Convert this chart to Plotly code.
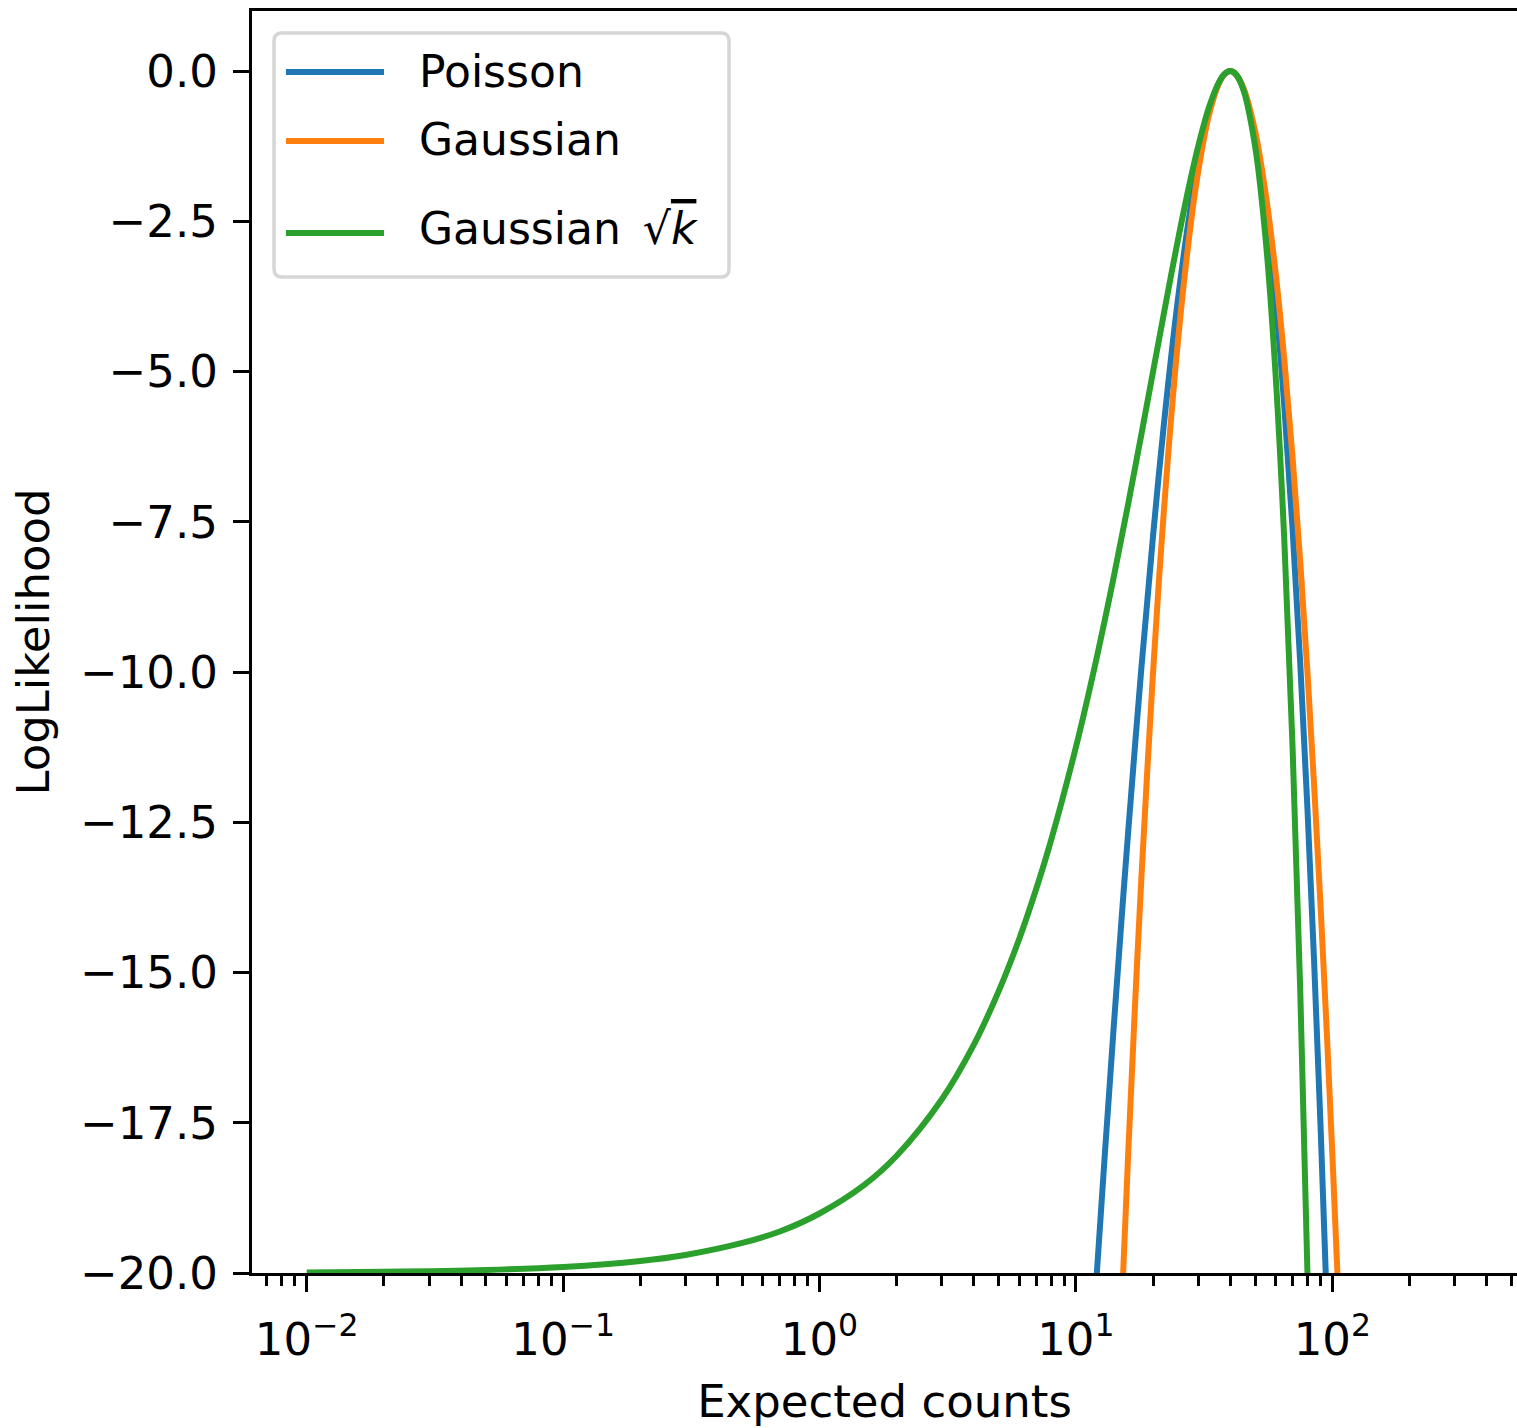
import plotly.graph_objects as go

poisson_mu = [11, 12, 13, 14, 15, 16, 18, 20, 22, 25, 28, 30, 33, 36, 38, 40,
              42, 45, 50, 55, 60, 65, 70, 75, 80, 85, 90, 95, 100]
poisson_ll = [-22.64, -20.16, -17.96, -15.99, -14.23, -12.65, -9.94, -7.73, -5.91,
              -3.80, -2.27, -1.51, -0.69, -0.21, -0.05, 0.0, -0.05, -0.29, -1.07,
              -2.26, -3.78, -5.58, -7.62, -9.86, -12.27, -14.85, -17.56, -20.40, -23.35]

gauss_mu = [14, 15, 16, 17, 18, 20, 22, 25, 28, 30, 33, 36, 38, 40, 42, 45, 50,
            55, 60, 65, 70, 75, 80, 85, 90, 95, 100, 105, 110]
gauss_ll = [-24.14, -20.83, -18.0, -15.56, -13.44, -10.0, -7.36, -4.5, -2.57, -1.67,
            -0.74, -0.22, -0.05, 0.0, -0.05, -0.28, -1.0, -2.05, -3.33, -4.81, -6.43,
            -8.17, -10.0, -11.91, -13.89, -15.92, -18.0, -20.12, -22.27]

gsqrt_mu = [0.01, 0.02, 0.05, 0.1, 0.2, 0.3, 0.5, 0.7, 1, 1.5, 2, 3, 4, 5, 6, 7, 8,
            10, 12, 14, 16, 18, 20, 22, 25, 28, 30, 33, 36, 38, 40, 42, 45, 50, 55,
            60, 65, 70, 75, 80, 85]
gsqrt_ll = [-19.99, -19.98, -19.95, -19.90, -19.80, -19.70, -19.50, -19.31, -19.01,
            -18.53, -18.05, -17.11, -16.20, -15.31, -14.45, -13.61, -12.80, -11.25,
            -9.80, -8.45, -7.20, -6.05, -5.00, -4.05, -2.81, -1.80, -1.25, -0.61,
            -0.20, -0.05, 0.0, -0.05, -0.31, -1.25, -2.81, -5.00, -7.81, -11.25,
            -15.31, -20.0, -25.31]

names = ['Poisson', 'Gaussian', 'Gaussian √k']
legend_text = ['Poisson', 'Gaussian',
               'Gaussian\u2002√<span style="text-decoration:overline"><i>k</i></span>']
colors = ['#1f77b4', '#ff7f0e', '#2ca02c']

x_tickvals = [0.01, 0.1, 1, 10, 100]
x_ticktext = ['10<sup>−2</sup>', '10<sup>−1</sup>', '10<sup>0</sup>',
              '10<sup>1</sup>', '10<sup>2</sup>']
x_minor = [m * 10.0 ** e for e in range(-3, 3) for m in range(2, 10)]
y_tickvals = [0, -2.5, -5, -7.5, -10, -12.5, -15, -17.5, -20]
y_ticktext = ['0.0', '−2.5', '−5.0', '−7.5', '−10.0', '−12.5', '−15.0', '−17.5', '−20.0']

W, H = 1517, 1428
ML, MT, MB = 252, 11, 155
PW, PH = W - ML, H - MT - MB
FONT = 'DejaVu Sans'
FS = 45


def px(x):
    return (x - ML) / PW


def py(y):
    return (H - MB - y) / PH


fig = go.Figure()
for mu, ll, name, c in zip([poisson_mu, gauss_mu, gsqrt_mu],
                           [poisson_ll, gauss_ll, gsqrt_ll], names, colors):
    fig.add_trace(go.Scatter(x=mu, y=ll, name=name, mode='lines',
                             line=dict(color=c, width=6, shape='spline'),
                             showlegend=False))

# legend drawn by hand (matplotlib style: long line samples, rounded frame)
x0, x1, y0, y1, r = px(274), px(729), py(33), py(277), 8
rx, ry = r / PW, r / PH
frame = (f'M {x0+rx},{y0} L {x1-rx},{y0} Q {x1},{y0} {x1},{y0-ry} '
         f'L {x1},{y1+ry} Q {x1},{y1} {x1-rx},{y1} L {x0+rx},{y1} '
         f'Q {x0},{y1} {x0},{y1+ry} L {x0},{y0-ry} Q {x0},{y0} {x0+rx},{y0} Z')
fig.add_shape(type='path', path=frame, xref='paper', yref='paper',
              line=dict(color='#d6d6d6', width=3.5), fillcolor='rgba(255,255,255,0.8)')
for yy, ty, txt, c in zip([72, 141, 233], [72, 139, 229], legend_text, colors):
    fig.add_shape(type='line', xref='paper', yref='paper',
                  x0=px(286), x1=px(384), y0=py(yy), y1=py(yy),
                  line=dict(color=c, width=6))
    fig.add_annotation(x=px(417), y=py(ty), xref='paper', yref='paper',
                       text=txt, showarrow=False, xanchor='left', yanchor='middle',
                       font=dict(family=FONT, size=44, color='black'))

fig.update_layout(
    width=W, height=H,
    margin=dict(l=ML, r=0, t=MT, b=MB, pad=0),
    paper_bgcolor='white', plot_bgcolor='white',
    font=dict(family=FONT, size=FS, color='black'),
    showlegend=False,
)
fig.update_xaxes(type='log', range=[-2.2133, 2.7204],
                 tickmode='array', tickvals=x_tickvals, ticktext=x_ticktext,
                 ticks='outside', ticklen=16, tickwidth=3.3, tickcolor='black',
                 ticklabelstandoff=9,
                 minor=dict(tickmode='array', tickvals=x_minor, ticks='outside',
                            ticklen=10, tickwidth=2.5, tickcolor='black', showgrid=False),
                 showline=True, linecolor='black', linewidth=3.3, mirror=True,
                 showgrid=False, zeroline=False,
                 title=dict(text='Expected counts', standoff=24,
                            font=dict(family=FONT, size=FS, color='black')))
fig.update_yaxes(range=[-20, 1.0],
                 tickmode='array', tickvals=y_tickvals, ticktext=y_ticktext,
                 ticks='outside', ticklen=16, tickwidth=3.3, tickcolor='black',
                 ticklabelstandoff=6,
                 showline=True, linecolor='black', linewidth=3.3, mirror=False,
                 showgrid=False, zeroline=False,
                 title=dict(text='LogLikelihood', standoff=17,
                            font=dict(family=FONT, size=FS, color='black')))

fig.write_html("out.html", config={'displayModeBar': False},
               post_script="document.body.style.margin='0';")
